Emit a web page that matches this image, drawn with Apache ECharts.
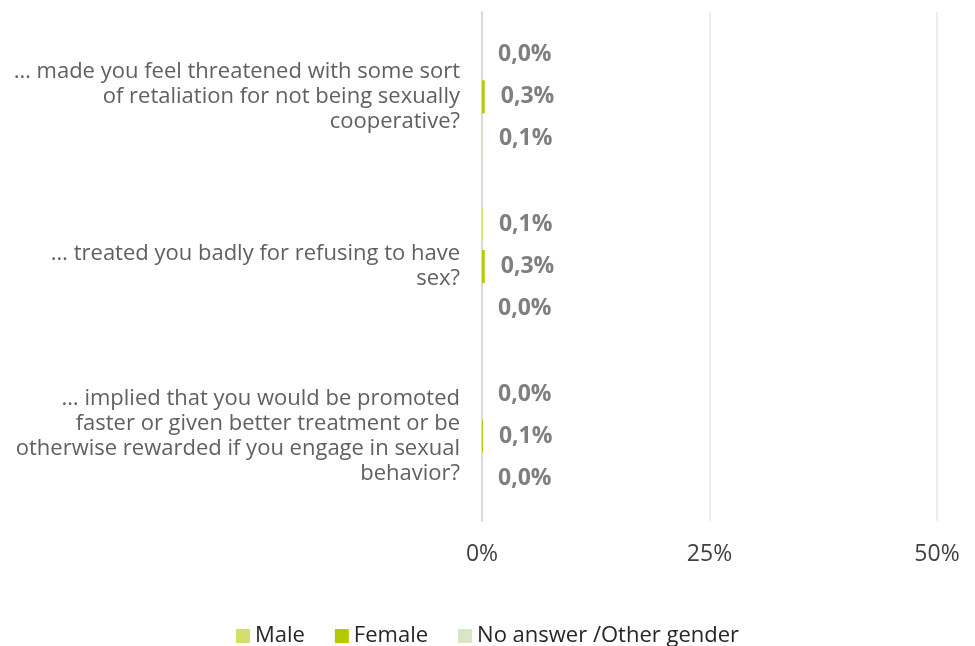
<!DOCTYPE html>
<html>
<head>
<meta charset="utf-8">
<script src="https://cdn.jsdelivr.net/npm/echarts@6/dist/echarts.min.js"></script>
<style>
  html, body { margin: 0; padding: 0; background: #fff; }
  #main { width: 975px; height: 646px; }
</style>
</head>
<body>
<div id="main"></div>
<script>
// questions, top to bottom
const categories = [
  '… made you feel threatened with some sort\nof retaliation for not being sexually\ncooperative?',
  '… treated you badly for refusing to have\nsex?',
  '… implied that you would be promoted\nfaster or given better treatment or be\notherwise rewarded if you engage in sexual\nbehavior?'
]
const seriesNames = ['Male', 'Female', 'No answer /Other gender']
const male = [0.0, 0.1, 0.0]
const female = [0.3, 0.3, 0.1]
const noAnswer = [0.1, 0.0, 0.0]
const xTicks = [0, 25, 50]

const colors = ['#d3df6a', '#b5c800', '#d9e6c5']
const font = '"Open Sans", "Noto Sans", sans-serif'

function pct(p) {
  return p.value.toFixed(1).replace('.', ',') + '%'
}

function makeSeries(name, data, i) {
  return {
    name: name,
    type: 'bar',
    data: data,
    barWidth: 33,
    barGap: '27%',
    itemStyle: { color: colors[i] },
    label: {
      show: true,
      position: 'right',
      distance: 16,
      formatter: pct,
      color: '#7f7f7f',
      fontWeight: 'bold',
      fontSize: 23,
      fontFamily: font
    }
  }
}

const chart = echarts.init(document.getElementById('main'))
chart.setOption({
  animation: false,
  textStyle: { fontFamily: font },
  grid: { left: 482, right: 38, top: 12, bottom: 125, containLabel: false },
  legend: {
    top: 620,
    left: 'center',
    icon: 'rect',
    itemWidth: 14,
    itemHeight: 14,
    itemGap: 30,
    textStyle: { fontSize: 22, color: '#262626', fontFamily: font },
    data: seriesNames
  },
  xAxis: {
    type: 'value',
    min: xTicks[0],
    max: xTicks[xTicks.length - 1],
    interval: 25,
    axisLine: { show: false },
    axisTick: { show: false },
    axisLabel: {
      formatter: '{value}%',
      color: '#404040',
      fontSize: 23,
      margin: 22
    },
    splitLine: { lineStyle: { color: '#e6e6e6', width: 1.5 } }
  },
  yAxis: {
    type: 'category',
    inverse: true,
    data: categories,
    axisLine: { lineStyle: { color: '#d9d9d9', width: 2 } },
    axisTick: { show: false },
    axisLabel: {
      color: '#606060',
      fontSize: 22,
      lineHeight: 25,
      align: 'right',
      margin: 22
    }
  },
  series: [
    makeSeries(seriesNames[0], male, 0),
    makeSeries(seriesNames[1], female, 1),
    makeSeries(seriesNames[2], noAnswer, 2)
  ]
})
</script>
</body>
</html>
